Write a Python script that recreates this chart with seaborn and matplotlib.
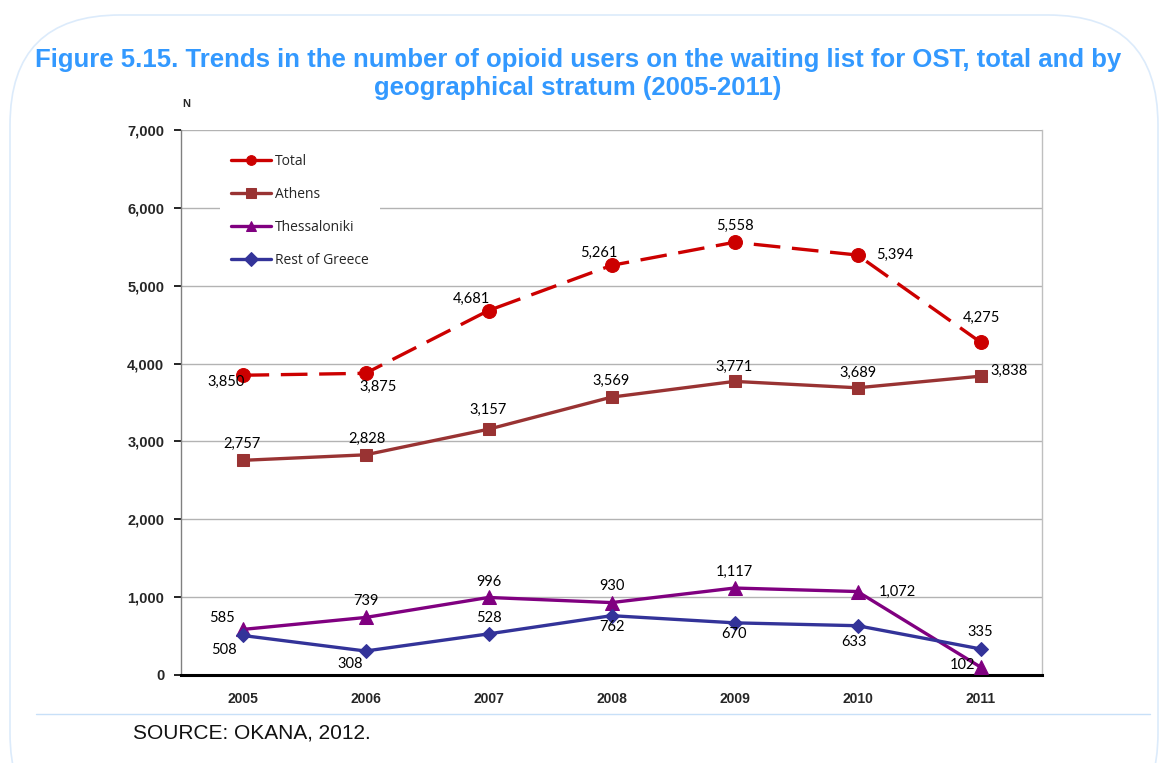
import matplotlib
matplotlib.use("Agg")
import matplotlib.pyplot as plt
from matplotlib.patches import FancyBboxPatch
from matplotlib.lines import Line2D
from matplotlib.transforms import IdentityTransform
from matplotlib.ticker import FixedLocator, FuncFormatter
import seaborn as sns
import pandas as pd

years = ["2005", "2006", "2007", "2008", "2009", "2010", "2011"]
total = [3850, 3875, 4681, 5261, 5558, 5394, 4275]
athens = [2757, 2828, 3157, 3569, 3771, 3689, 3838]
thessaloniki = [585, 739, 996, 930, 1117, 1072, 102]
rest_of_greece = [508, 308, 528, 762, 670, 633, 335]
series_names = ["Total", "Athens", "Thessaloniki", "Rest of Greece"]

sns.set_style("white")
plt.rcParams["font.family"] = ["Liberation Sans", "DejaVu Sans"]

fig = plt.figure(figsize=(11.63, 7.63), dpi=100)
ax = fig.add_axes([181 / 1163, 1 - 675 / 763, 861 / 1163, 545 / 763])

# rounded frame and separator rule
frame = FancyBboxPatch((10, -80), 1148, 828, boxstyle="round,pad=0,rounding_size=110",
                       transform=IdentityTransform(), facecolor="none",
                       edgecolor="#DCEBFB", linewidth=1.2, zorder=-5)
fig.patches.append(frame)
fig.add_artist(Line2D([36 / 1163, 1150 / 1163], [1 - 714 / 763, 1 - 714 / 763],
                      transform=fig.transFigure, color="#C8E0F8", linewidth=1))

pos = list(range(len(years)))
styles = {
    "Total": dict(color="#CC0000", marker="o", ms=10, dashes=(8, 3.5)),
    "Athens": dict(color="#993333", marker="s", ms=9, dashes=None),
    "Thessaloniki": dict(color="#800080", marker="^", ms=10, dashes=None),
    "Rest of Greece": dict(color="#333399", marker="D", ms=7.5, dashes=None),
}
values = {"Total": total, "Athens": athens, "Thessaloniki": thessaloniki,
          "Rest of Greece": rest_of_greece}

for name in series_names:
    st = styles[name]
    df = pd.DataFrame({"pos": pos, "value": values[name]})
    kw = dict(data=df, x="pos", y="value", ax=ax, color=st["color"], marker=st["marker"],
              markersize=st["ms"], markeredgecolor=st["color"], linewidth=2.4,
              label=name, zorder=3)
    if st["dashes"]:
        kw["dashes"] = st["dashes"]
    sns.lineplot(**kw)

# value labels (pixel offsets from each point)
offsets = {
    "Total": [(-16, -7), (13, -14), (-17, 12), (-13, 13), (0, 16), (37, 0), (1, 24)],
    "Athens": [(0, 16), (1, 16), (0, 19), (0, 16), (0, 15), (0, 15), (29, 5)],
    "Thessaloniki": [(-21, 11), (0, 16), (0, 15), (0, 17), (0, 16), (40, 0), (-18, 2)],
    "Rest of Greece": [(-19, -15), (-15, -13), (0, 16), (0, -11), (0, -11), (-3, -16), (0, 17)],
}
for name in series_names:
    for i, v in enumerate(values[name]):
        dx, dy = offsets[name][i]
        ax.annotate(f"{v:,}", (i, v), xytext=(dx, dy), textcoords="offset pixels",
                    ha="center", va="center", fontsize=10.5, family=["Lato", "DejaVu Sans"],
                    color="black", zorder=5)

ax.set_xlim(-0.5, 6.5)
ax.set_ylim(0, 7000)
ax.set_xticks(pos)
ax.set_xticklabels(years, fontsize=10, fontweight="bold")
ax.xaxis.set_minor_locator(FixedLocator([p + 0.5 for p in range(-1, 7)]))
ax.tick_params(axis="x", which="major", length=0, pad=12)
ax.tick_params(axis="x", which="minor", length=6, width=1.3, color="black", direction="out")
ax.set_yticks(range(0, 7001, 1000))
ax.yaxis.set_major_formatter(FuncFormatter(lambda v, p: f"{int(v):,}"))
for lab in ax.get_yticklabels():
    lab.set_fontweight("bold")
    lab.set_fontsize(10.5)
ax.tick_params(axis="y", length=5, width=1.2, color="black", direction="out", left=True, pad=7)
ax.set_xlabel("")
ax.set_ylabel("")

ax.grid(axis="y", color="#B3B3B3", linewidth=1)
ax.set_axisbelow(True)
ax.spines["top"].set_visible(False)
ax.spines["left"].set_color("#808080")
ax.spines["right"].set_color("#BFBFBF")
ax.spines["bottom"].set_color("black")
ax.spines["bottom"].set_linewidth(2.2)
ax.spines["left"].set_linewidth(1)
ax.spines["right"].set_linewidth(1)

handles, labels = ax.get_legend_handles_labels()
leg = ax.legend(handles, labels, loc="upper left", bbox_to_anchor=(32 / 861, 1 - 6 / 545),
                frameon=True, facecolor="white", edgecolor="none", framealpha=1,
                handlelength=2.9, labelspacing=1.3, borderpad=0.8,
                handletextpad=0.25, prop={"family": ["Open Sans", "DejaVu Sans"], "size": 10})
leg.set_zorder(4)
for h in leg.legend_handles:
    h.set_linestyle("-")
    h.set_markersize(7)

fig.text(186 / 1163, 1 - 104 / 763, "N", fontsize=8, fontweight="bold", ha="center", va="center")
fig.text(578 / 1163, 1 - 74 / 763,
         "Figure 5.15. Trends in the number of opioid users on the waiting list for OST, total and by\ngeographical stratum (2005-2011)",
         ha="center", va="center", fontsize=18.5, fontweight="bold", color="#3399FF",
         linespacing=1.2)
fig.text(133 / 1163, 1 - 733 / 763, "SOURCE: OKANA, 2012.", fontsize=15, ha="left", va="center",
         color="#111111")

fig.savefig("out.png", dpi=100)
